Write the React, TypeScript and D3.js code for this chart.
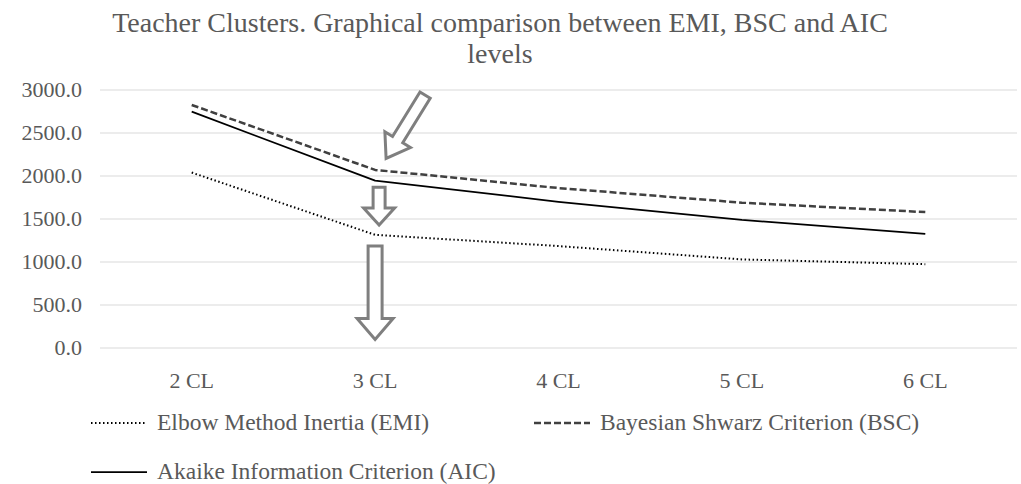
import * as d3 from "d3";

// chart data
const categories = ["2 CL", "3 CL", "4 CL", "5 CL", "6 CL"];
const emi = [2040, 1316, 1185, 1030, 975];
const bsc = [2826, 2071, 1860, 1690, 1580];
const aic = [2748, 1946, 1700, 1490, 1328];
const yTicks = [0, 500, 1000, 1500, 2000, 2500, 3000];
const titleLines = ["Teacher Clusters. Graphical comparison between EMI, BSC and AIC", "levels"];

const series = [
  { name: "Elbow Method Inertia (EMI)", values: emi, color: "#000", width: 2, dash: "1.5 2.5" },
  { name: "Bayesian Shwarz Criterion (BSC)", values: bsc, color: "#404040", width: 2.5, dash: "7 3" },
  { name: "Akaike Information Criterion (AIC)", values: aic, color: "#000", width: 1.75, dash: "" },
];

const W = 1021;
const H = 484;
const margin = { top: 90, right: 4, bottom: 136, left: 100 };
const font = "Liberation Serif, Times New Roman, DejaVu Serif, serif";
const textColor = "#595959";

// legend slots (line start x, row y)
const legendPos = [[91, 423], [534, 423], [91, 472]];

// hollow block arrow pointing from tail to tip
function arrowPath(tail: [number, number], tip: [number, number], shaft: number, head: number, headLen: number) {
  const dx = tip[0] - tail[0];
  const dy = tip[1] - tail[1];
  const len = Math.hypot(dx, dy);
  const ux = dx / len, uy = dy / len;
  const px = -uy, py = ux;
  const bx = tip[0] - ux * headLen, by = tip[1] - uy * headLen;
  const pts: [number, number][] = [
    [tail[0] + px * shaft / 2, tail[1] + py * shaft / 2],
    [bx + px * shaft / 2, by + py * shaft / 2],
    [bx + px * head / 2, by + py * head / 2],
    tip,
    [bx - px * head / 2, by - py * head / 2],
    [bx - px * shaft / 2, by - py * shaft / 2],
    [tail[0] - px * shaft / 2, tail[1] - py * shaft / 2],
  ];
  return d3.line()(pts) + "Z";
}

export default function App() {
  const x = d3.scaleBand().domain(categories).range([margin.left, W - margin.right]);
  const y = d3.scaleLinear().domain([0, 3000]).range([H - margin.bottom, margin.top]);
  const cx = (c: string) => (x(c) ?? 0) + x.bandwidth() / 2;

  const line = d3.line<number>()
    .x((_, i) => cx(categories[i]))
    .y((d) => y(d));

  const ax = cx("3 CL");
  const arrows = [
    { tail: [ax + 50, y(2940)], tip: [ax + 11, y(2205)], shaft: 12, head: 30, headLen: 22 },
    { tail: [ax + 4, y(1870)], tip: [ax + 4, y(1430)], shaft: 12, head: 31, headLen: 17 },
    { tail: [ax, y(1185)], tip: [ax, y(100)], shaft: 14, head: 36, headLen: 21 },
  ];

  return (
    <svg width={W} height={H} style={{ position: "absolute", left: 0, top: 0, background: "#fff", fontFamily: font }}>
      <g fill={textColor}>
        {titleLines.map((t, i) => (
          <text key={i} x={500} y={32 + i * 31} fontSize={28} textAnchor="middle">{t}</text>
        ))}
      </g>
      <g>
        {yTicks.map((t) => (
          <g key={t}>
            <line x1={margin.left} x2={W - margin.right} y1={y(t)} y2={y(t)} stroke="#d9d9d9" strokeWidth={1} />
            <text x={82} y={y(t) + 7} textAnchor="end" fontSize={22} fill={textColor}>
              {d3.format(".1f")(t)}
            </text>
          </g>
        ))}
        {categories.map((c) => (
          <text key={c} x={cx(c)} y={388} textAnchor="middle" fontSize={22} fill={textColor}>
            {c}
          </text>
        ))}
      </g>
      <g fill="none">
        {series.map((s) => (
          <path key={s.name} d={line(s.values) ?? ""} stroke={s.color} strokeWidth={s.width}
            strokeDasharray={s.dash || undefined} strokeLinejoin="round" />
        ))}
      </g>
      <g>
        {arrows.map((a, i) => (
          <path key={i} d={arrowPath(a.tail as [number, number], a.tip as [number, number], a.shaft, a.head, a.headLen)}
            fill="#fff" stroke="#7f7f7f" strokeWidth={3} strokeLinejoin="miter" />
        ))}
      </g>
      <g fontSize={23.5} fill={textColor}>
        {series.map((s, i) => {
          const [lx, ly] = legendPos[i];
          return (
            <g key={s.name}>
              <line x1={lx} x2={lx + 56} y1={ly} y2={ly} stroke={s.color} strokeWidth={s.width}
                strokeDasharray={s.dash || undefined} />
              <text x={lx + 66} y={ly + 7}>{s.name}</text>
            </g>
          );
        })}
      </g>
    </svg>
  );
}
